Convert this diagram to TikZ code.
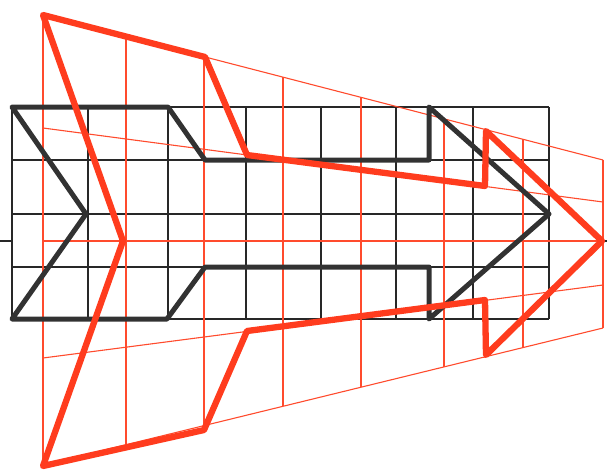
\documentclass[tikz,border=0pt]{standalone}
\begin{document}
\begin{tikzpicture}[x=1pt,y=-1pt,
  redgrid/.style={draw={rgb,255:red,255;green,75;blue,45}, line width=1.1pt},
  redarrow/.style={draw={rgb,255:red,255;green,60;blue,30}, line width=6.3pt, line join=round},
  blackgrid/.style={draw={rgb,255:red,40;green,40;blue,40}, line width=1.3pt},
  blackarrow/.style={draw={rgb,255:red,50;green,50;blue,50}, line width=5pt, line join=round}]
\useasboundingbox (0,0) rectangle (607,472);
% black axis stubs
\draw[blackgrid, line width=2pt] (0,241) -- (12,241);
\draw[blackgrid, line width=2pt] (599,241) -- (607,241);
% black grid
\foreach \x in {12,88,168,246,321,396,473,549}
  \draw[blackgrid] (\x,107) -- (\x,319);
\foreach \y in {107,160,214,267,319}
  \draw[blackgrid] (12,\y) -- (549,\y);
% red grid
\foreach \x in {43,126,204,283,361,444,523,603}{
  \pgfmathsetmacro{\yt}{15+(\x-43)/560*145}
  \pgfmathsetmacro{\yb}{465-(\x-43)/560*137}
  \draw[redgrid] (\x,\yt) -- (\x,\yb);
}
\draw[redgrid] (43,15) -- (603,160);
\draw[redgrid] (43,128) -- (603,202);
\draw[redgrid] (43,241) -- (603,241);
\draw[redgrid] (43,358) -- (603,285);
\draw[redgrid] (43,465) -- (603,328);
% black arrow
\draw[blackarrow] (12,107) -- (168,107) -- (205,160) -- (429,160) -- (429,107)
  -- (549,214) -- (429,319) -- (429,267) -- (205,267) -- (167,319) -- (12,319)
  -- (86,214) -- cycle;
% red arrow
\draw[redarrow] (43,15) -- (205,57) -- (247,155) -- (485,186) -- (486,131)
  -- (602,241) -- (486,355) -- (485,300) -- (247,331) -- (204,430) -- (43,466)
  -- (123,241) -- cycle;
\end{tikzpicture}
\end{document}
